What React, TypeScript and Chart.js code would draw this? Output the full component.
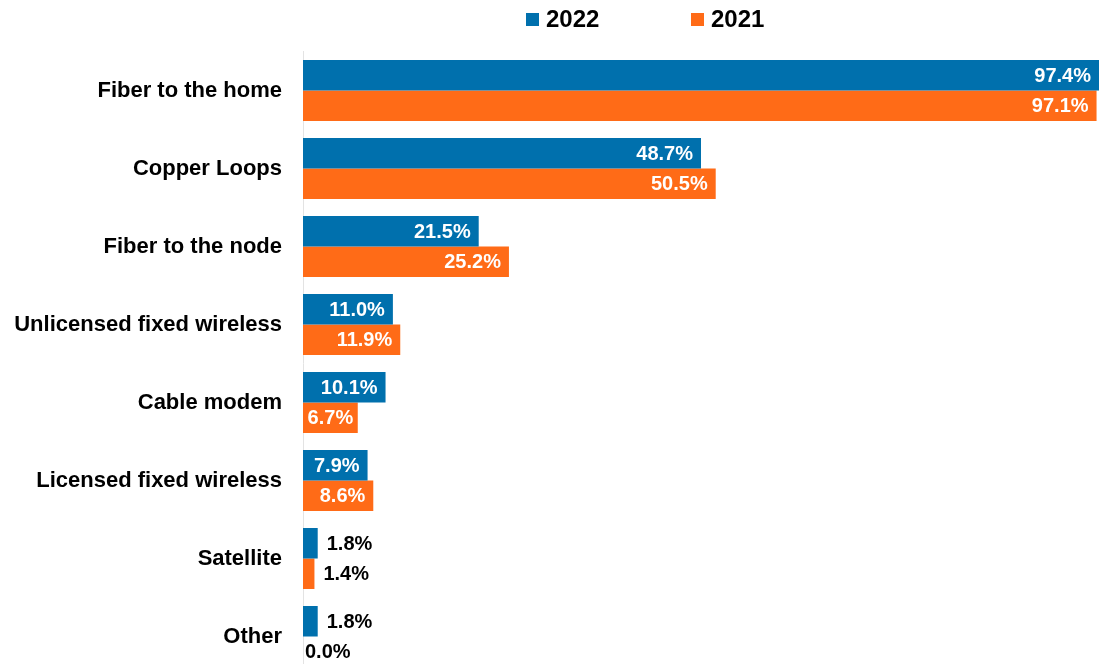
import React, { useEffect, useRef } from "react";
import { Chart, registerables } from "chart.js";

Chart.register(...registerables);

const categories = [
  "Fiber to the home",
  "Copper Loops",
  "Fiber to the node",
  "Unlicensed fixed wireless",
  "Cable modem",
  "Licensed fixed wireless",
  "Satellite",
  "Other",
];
const series2022 = [97.4, 48.7, 21.5, 11.0, 10.1, 7.9, 1.8, 1.8];
const series2021 = [97.1, 50.5, 25.2, 11.9, 6.7, 8.6, 1.4, 0.0];
const seriesNames = ["2022", "2021"];
const seriesColors = ["#0070AD", "#FF6B17"];

const FONT = '"Liberation Sans", Arial, Helvetica, sans-serif';

const dataLabelPlugin = {
  id: "dataLabels",
  afterDatasetsDraw(chart: any) {
    const ctx = chart.ctx;
    ctx.save();
    ctx.font = `bold 20px ${FONT}`;
    ctx.textBaseline = "middle";
    chart.data.datasets.forEach((ds: any, di: number) => {
      const meta = chart.getDatasetMeta(di);
      meta.data.forEach((bar: any, i: number) => {
        const v = ds.data[i] as number;
        const text = v.toFixed(1) + "%";
        const w = ctx.measureText(text).width;
        const base = bar.base;
        const end = bar.x;
        const bw = end - base;
        if (bw >= w + 6) {
          ctx.fillStyle = "#FFFFFF";
          const x = end - 8;
          if (x - w < base + 3) {
            ctx.textAlign = "center";
            ctx.fillText(text, (base + end) / 2, bar.y + 1);
          } else {
            ctx.textAlign = "right";
            ctx.fillText(text, x, bar.y + 1);
          }
        } else {
          ctx.fillStyle = "#000000";
          ctx.textAlign = "left";
          ctx.fillText(text, end + (v === 0 ? 2 : 9), bar.y + 1);
        }
      });
    });
    ctx.restore();
  },
};

const legendPlugin = {
  id: "customLegend",
  afterDraw(chart: any) {
    const ctx = chart.ctx;
    ctx.save();
    ctx.font = `bold 24px ${FONT}`;
    ctx.textBaseline = "middle";
    ctx.textAlign = "left";
    const startX = 526;
    const step = 165;
    chart.data.datasets.forEach((ds: any, i: number) => {
      const x = startX + i * step;
      ctx.fillStyle = ds.backgroundColor;
      ctx.fillRect(x, 13, 13, 13);
      ctx.fillStyle = "#000000";
      ctx.fillText(ds.label, x + 20, 20.5);
    });
    ctx.restore();
  },
};

export default function App() {
  const ref = useRef<HTMLCanvasElement>(null);
  useEffect(() => {
    if (!ref.current) return;
    const chart = new Chart(ref.current, {
      type: "bar",
      data: {
        labels: categories,
        datasets: [
          {
            label: seriesNames[0],
            data: series2022,
            backgroundColor: seriesColors[0],
            borderWidth: 0,
            categoryPercentage: 0.78,
            barPercentage: 1.0,
          },
          {
            label: seriesNames[1],
            data: series2021,
            backgroundColor: seriesColors[1],
            borderWidth: 0,
            categoryPercentage: 0.78,
            barPercentage: 1.0,
          },
        ],
      },
      options: {
        indexAxis: "y",
        responsive: true,
        maintainAspectRatio: false,
        animation: false,
        layout: { padding: { top: 51.5, bottom: 0.5, left: 0, right: 0 } },
        plugins: {
          legend: { display: false },
          tooltip: { enabled: false },
        },
        scales: {
          x: { display: false, min: 0, max: 97.4 },
          y: {
            afterFit: (scale: any) => {
              scale.width = 303;
              scale.paddingTop = 0;
              scale.paddingBottom = 0;
            },
            grid: { display: true, color: "rgba(0,0,0,0)", drawTicks: false },
            border: { display: true, color: "#E3E3E3", width: 1 },
            ticks: {
              padding: 21,
              color: "#000000",
              font: { family: FONT, size: 22, weight: "bold" },
            },
          },
        },
      },
      plugins: [dataLabelPlugin, legendPlugin],
    });
    return () => chart.destroy();
  }, []);
  return (
    <div
      style={{
        position: "fixed",
        left: 0,
        top: 0,
        width: 1099,
        height: 664,
        overflow: "hidden",
        background: "#FFFFFF",
      }}
    >
      <div style={{ position: "relative", width: 1099, height: 676 }}>
        <canvas ref={ref} />
      </div>
    </div>
  );
}
